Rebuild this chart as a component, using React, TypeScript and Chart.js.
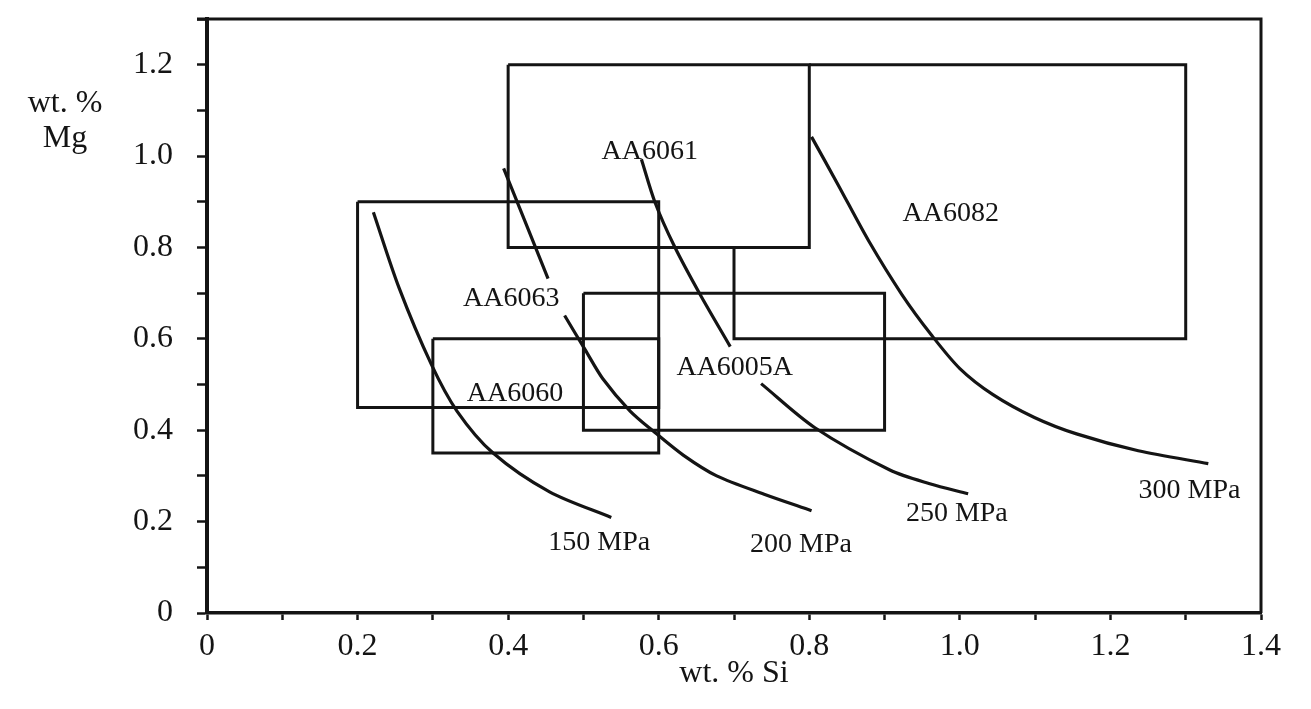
import React, { useEffect, useRef } from 'react';
import { Chart, registerables } from 'chart.js';

Chart.register(...registerables);

// Axis ranges (wt. % Si on x, wt. % Mg on y)
const siRange = [0, 1.4];
const mgRange = [0, 1.3];

// Alloy composition windows (closed outlines)
const aa6063Si = [0.2, 0.6, 0.6, 0.2, 0.2];
const aa6063Mg = [0.9, 0.9, 0.45, 0.45, 0.9];
const aa6060Si = [0.3, 0.6, 0.6, 0.3, 0.3];
const aa6060Mg = [0.6, 0.6, 0.35, 0.35, 0.6];
const aa6005aSi = [0.5, 0.9, 0.9, 0.5, 0.5];
const aa6005aMg = [0.7, 0.7, 0.4, 0.4, 0.7];
const aa6061Si = [0.4, 0.8, 0.8, 0.4, 0.4];
const aa6061Mg = [1.2, 1.2, 0.8, 0.8, 1.2];
const aa6082Si = [0.8, 1.3, 1.3, 0.7, 0.7];
const aa6082Mg = [1.2, 1.2, 0.6, 0.6, 0.8];

// Iso-strength curves (null = gap where a label sits)
const mpa150Si = [0.221, 0.255, 0.298, 0.332, 0.38, 0.455, 0.537];
const mpa150Mg = [0.877, 0.712, 0.544, 0.442, 0.35, 0.265, 0.209];
const mpa200Si = [0.394, 0.453, 0.464, 0.475, 0.502, 0.526, 0.562, 0.595, 0.633, 0.677, 0.74, 0.803];
const mpa200Mg = [0.973, 0.732, null, 0.651, 0.577, 0.512, 0.442, 0.395, 0.345, 0.3, 0.26, 0.224];
const mpa250Si = [0.577, 0.595, 0.621, 0.655, 0.695, 0.715, 0.736, 0.807, 0.907, 0.96, 1.011];
const mpa250Mg = [0.993, 0.899, 0.802, 0.697, 0.583, null, 0.502, 0.406, 0.313, 0.283, 0.261];
const mpa300Si = [0.803, 0.838, 0.879, 0.923, 0.962, 1.0, 1.044, 1.099, 1.155, 1.237, 1.33];
const mpa300Mg = [1.042, 0.938, 0.814, 0.697, 0.609, 0.535, 0.478, 0.428, 0.392, 0.355, 0.327];

// Text labels placed in data coordinates
const labelTexts = ['AA6061', 'AA6082', 'AA6063', 'AA6005A', 'AA6060', '150 MPa', '200 MPa', '250 MPa', '300 MPa'];
const labelSi = [0.588, 0.988, 0.404, 0.701, 0.409, 0.521, 0.789, 0.996, 1.305];
const labelMg = [1.01, 0.873, 0.689, 0.538, 0.479, 0.153, 0.15, 0.217, 0.268];

const xTitle = 'wt. % Si';
const yTitleLines = ['wt. %', 'Mg'];

const INK = '#141414';
const SERIF = '"Liberation Serif", "Times New Roman", serif';

const pts = (xs: number[], ys: (number | null)[]) => xs.map((x, i) => ({ x, y: ys[i] }));

const fmtTick = (maxLabel: number) => (value: any) => {
  const v = Math.round(Number(value) * 10);
  if (v % 2 !== 0 || v > maxLabel) return '';
  return v === 0 ? '0' : (v / 10).toFixed(1);
};

const textPlugin = {
  id: 'figText',
  afterDatasetsDraw(chart: any) {
    const { ctx, chartArea, scales } = chart;
    const xs = scales.x;
    const ys = scales.y;
    ctx.save();
    // frame top & right
    ctx.strokeStyle = INK;
    ctx.lineWidth = 3;
    ctx.beginPath();
    ctx.moveTo(chartArea.left - 10, chartArea.top);
    ctx.lineTo(chartArea.right, chartArea.top);
    ctx.lineTo(chartArea.right, chartArea.bottom);
    ctx.stroke();
    // annotations
    ctx.fillStyle = INK;
    ctx.font = `28px ${SERIF}`;
    ctx.textAlign = 'center';
    ctx.textBaseline = 'middle';
    labelTexts.forEach((t, i) => {
      ctx.fillText(t, xs.getPixelForValue(labelSi[i]), ys.getPixelForValue(labelMg[i]));
    });
    // y-axis title (horizontal, top-left)
    ctx.font = `32px ${SERIF}`;
    ctx.textBaseline = 'alphabetic';
    const cx = chartArea.left - 142;
    ctx.fillText(yTitleLines[0], cx, chartArea.top + 93);
    ctx.fillText(yTitleLines[1], cx, chartArea.top + 128);
    ctx.restore();
  },
};

export default function App() {
  const canvasRef = useRef<HTMLCanvasElement | null>(null);

  useEffect(() => {
    const canvas = canvasRef.current;
    if (!canvas) return;
    const boxStyle = { borderColor: INK, borderWidth: 3, pointRadius: 0, showLine: true, fill: false, tension: 0 };
    const curveStyle = {
      borderColor: INK,
      borderWidth: 3.2,
      pointRadius: 0,
      showLine: true,
      fill: false,
      tension: 0.3,
    };
    const chart = new Chart(canvas, {
      type: 'scatter',
      data: {
        datasets: [
          { label: 'AA6063', data: pts(aa6063Si, aa6063Mg), ...boxStyle },
          { label: 'AA6060', data: pts(aa6060Si, aa6060Mg), ...boxStyle },
          { label: 'AA6005A', data: pts(aa6005aSi, aa6005aMg), ...boxStyle },
          { label: 'AA6061', data: pts(aa6061Si, aa6061Mg), ...boxStyle },
          { label: 'AA6082', data: pts(aa6082Si, aa6082Mg), ...boxStyle },
          { label: '150 MPa', data: pts(mpa150Si, mpa150Mg), ...curveStyle },
          { label: '200 MPa', data: pts(mpa200Si, mpa200Mg), ...curveStyle },
          { label: '250 MPa', data: pts(mpa250Si, mpa250Mg), ...curveStyle },
          { label: '300 MPa', data: pts(mpa300Si, mpa300Mg), ...curveStyle },
        ] as any,
      },
      options: {
        responsive: false,
        animation: false,
        events: [],
        layout: { padding: { top: 19, right: 50, left: 0, bottom: 0 } },
        plugins: { legend: { display: false }, tooltip: { enabled: false } },
        scales: {
          x: {
            type: 'linear',
            position: 'bottom',
            min: siRange[0],
            max: siRange[1],
            afterFit: (s: any) => {
              s.height = 96;
              s.paddingLeft = 0;
              s.paddingRight = 0;
            },
            ticks: {
              stepSize: 0.1,
              autoSkip: false,
              maxRotation: 0,
              minRotation: 0,
              padding: 7,
              color: INK,
              font: { family: SERIF, size: 32 },
              callback: fmtTick(14),
            },
            grid: { drawOnChartArea: false, drawTicks: true, tickLength: 7, tickWidth: 2.5, color: INK },
            border: { color: INK, width: 3.5 },
            title: {
              display: true,
              text: xTitle,
              color: INK,
              font: { family: SERIF, size: 32 },
              padding: { top: 0, bottom: 16 },
            },
          },
          y: {
            type: 'linear',
            position: 'left',
            min: mgRange[0],
            max: mgRange[1],
            afterFit: (s: any) => {
              s.width = 207;
              s.paddingTop = 0;
              s.paddingBottom = 0;
            },
            ticks: {
              stepSize: 0.1,
              autoSkip: false,
              padding: 24,
              color: INK,
              font: { family: SERIF, size: 32 },
              callback: fmtTick(12),
            },
            grid: { drawOnChartArea: false, drawTicks: true, tickLength: 10, tickWidth: 2.5, color: INK },
            border: { color: INK, width: 4 },
          },
        },
      } as any,
      plugins: [textPlugin],
    });
    return () => chart.destroy();
  }, []);

  return (
    <div style={{ position: 'fixed', left: 0, top: 0, width: 1311, height: 709, background: '#fff' }}>
      <canvas ref={canvasRef} width={1311} height={709} style={{ width: 1311, height: 709, display: 'block' }} />
    </div>
  );
}
